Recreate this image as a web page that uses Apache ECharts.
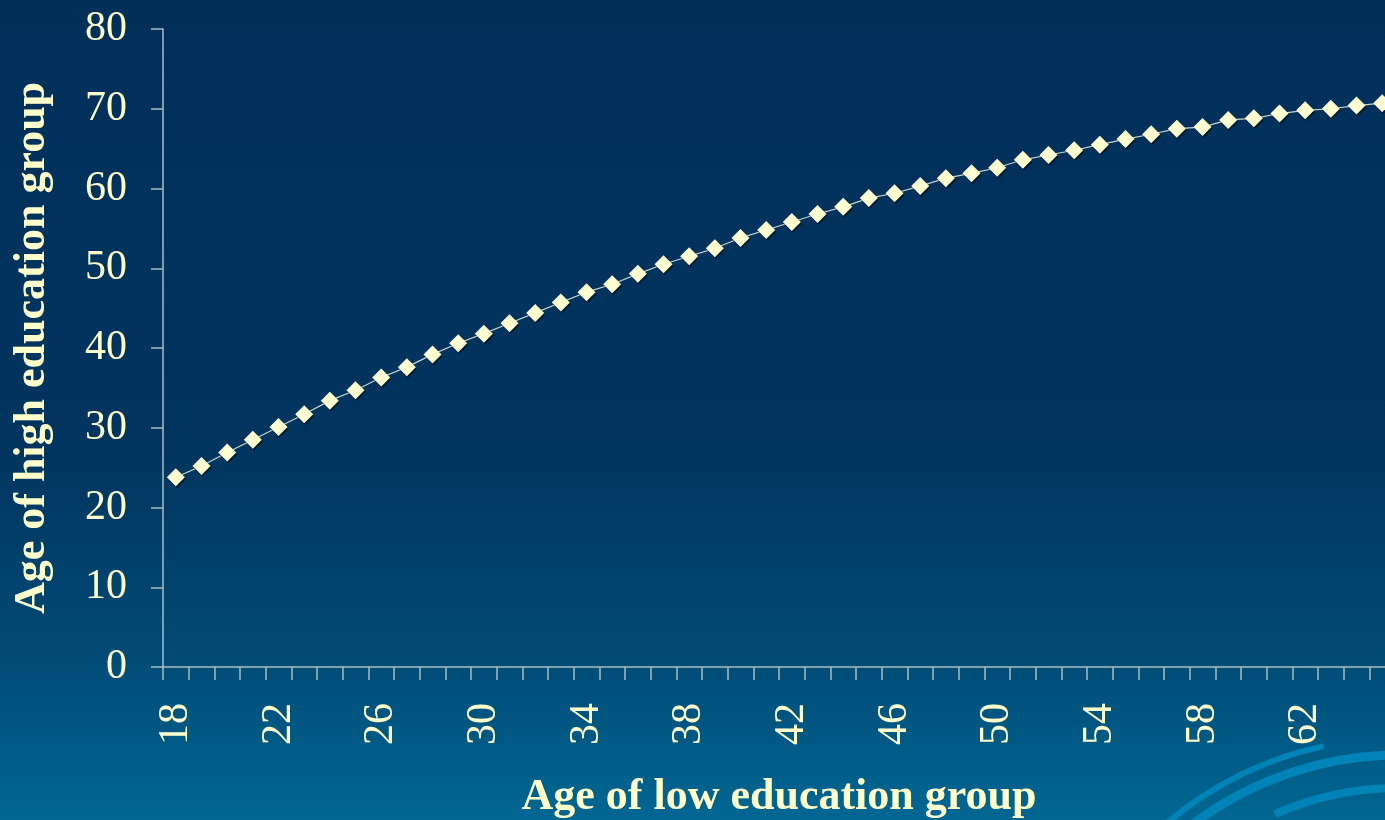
<!DOCTYPE html>
<html>
<head>
<meta charset="utf-8">
<script src="https://cdn.jsdelivr.net/npm/echarts@6/dist/echarts.min.js"></script>
<style>
html, body { margin: 0; padding: 0; }
#chart { width: 1385px; height: 820px; }
</style>
</head>
<body>
<div id="chart"></div>
<script>
var lowAges = ['18','19','20','21','22','23','24','25','26','27','28','29','30','31','32','33',
	'34','35','36','37','38','39','40','41','42','43','44','45','46','47','48','49',
	'50','51','52','53','54','55','56','57','58','59','60','61','62','63','64','65'];
var highAges = [23.8,25.2,26.9,28.5,30.1,31.7,33.4,34.7,36.3,37.6,39.2,40.6,41.8,43.1,44.4,45.7,
	47.0,48.0,49.3,50.5,51.5,52.5,53.8,54.8,55.8,56.8,57.7,58.8,59.4,60.3,61.3,61.9,
	62.6,63.6,64.2,64.8,65.5,66.2,66.8,67.5,67.7,68.6,68.8,69.4,69.8,70.0,70.4,70.7];
var yTicks = { min: 0, max: 80, step: 10 };

var txt = '#FFFFCC';
var axisCol = '#A9BDC0';
var font = '"Liberation Serif", "Times New Roman", serif';

var chart = echarts.init(document.getElementById('chart'));

// decorative arcs at the bottom right of the slide background
var arcs = [
	{ r: 362, a0: 4.00, a1: 4.50, w: 6 },
	{ r: 345, a0: 4.05, a1: 4.75, w: 9 },
	{ r: 312, a0: 4.30, a1: 4.75, w: 8 },
	{ r: 292, a0: 4.12, a1: 4.28, w: 7 }
];
var graphics = [];
for (var i = 0; i < arcs.length; i++) {
	graphics.push({
		type: 'arc',
		silent: true,
		z: -10,
		shape: { cx: 1400, cy: 1100, r: arcs[i].r, startAngle: arcs[i].a0, endAngle: arcs[i].a1 },
		style: { stroke: '#0083B6', fill: null, lineWidth: arcs[i].w }
	});
}

var option = {
	backgroundColor: new echarts.graphic.LinearGradient(0, 0, 0, 1, [
		{ offset: 0, color: '#002F5A' },
		{ offset: 0.55, color: '#00355F' },
		{ offset: 0.8, color: '#004B76' },
		{ offset: 1, color: '#006792' }
	]),
	animation: false,
	graphic: graphics,
	grid: { left: 163, top: 29, bottom: 153, right: -10, outerBoundsMode: 'none', containLabel: false },
	xAxis: {
		type: 'category',
		data: lowAges,
		boundaryGap: true,
		name: 'Age of low education group',
		nameLocation: 'middle',
		nameGap: 109,
		nameTextStyle: { color: txt, fontFamily: font, fontWeight: 'bold', fontSize: 44 },
		axisLine: { lineStyle: { color: axisCol, width: 1.5 } },
		axisTick: { show: true, interval: 0, length: 13, lineStyle: { color: axisCol, width: 1.5 } },
		axisLabel: { interval: 3, rotate: 90, margin: 36, color: txt, fontFamily: font, fontSize: 42 },
		splitLine: { show: false }
	},
	yAxis: {
		type: 'value',
		min: yTicks.min,
		max: yTicks.max,
		interval: yTicks.step,
		name: 'Age of high education group',
		nameLocation: 'middle',
		nameGap: 108,
		nameRotate: 90,
		nameTextStyle: { color: txt, fontFamily: font, fontWeight: 'bold', fontSize: 44 },
		axisLine: { show: true, lineStyle: { color: axisCol, width: 1.5 } },
		axisTick: { show: true, length: 12, lineStyle: { color: axisCol, width: 1.5 } },
		axisLabel: { margin: 36, color: txt, fontFamily: font, fontSize: 42 },
		splitLine: { show: false }
	},
	series: [{
		type: 'line',
		data: highAges,
		symbol: 'diamond',
		symbolSize: [18, 18],
		showAllSymbol: true,
		lineStyle: { color: '#C9D2CC', width: 1.2 },
		itemStyle: {
			color: '#FFFFD2',
			borderWidth: 0,
			shadowColor: 'rgba(0, 0, 0, 0.45)',
			shadowOffsetX: 1,
			shadowOffsetY: 2
		}
	}]
};
chart.setOption(option);
</script>
</body>
</html>
